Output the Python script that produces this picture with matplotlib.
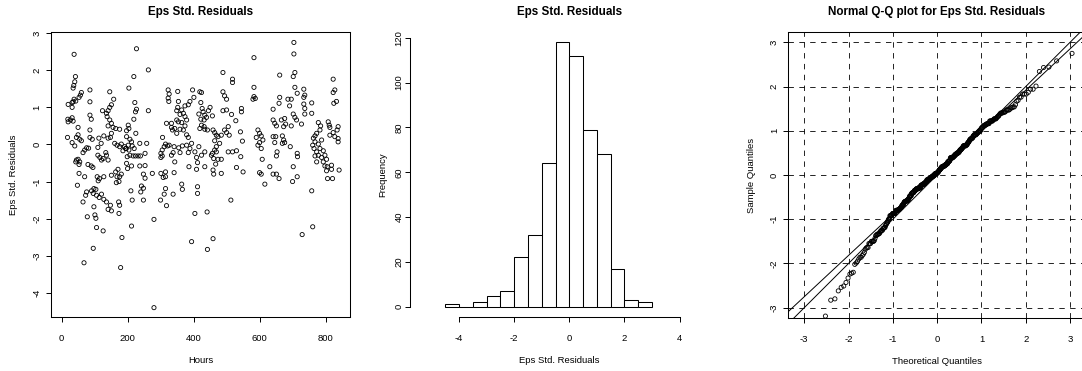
import matplotlib
matplotlib.use("Agg")
import matplotlib.pyplot as plt
import numpy as np
from statistics import NormalDist

plt.rcParams['font.family'] = ['Liberation Sans', 'DejaVu Sans']
plt.rcParams['axes.unicode_minus'] = False

# (hours, standardized residual)
obs = [
    (38, 2.43), (42, 1.83), (40, 1.69), (37, 1.59), (35, 1.52), (60, 1.4), (57, 1.33), (53, 1.27),
    (38, 1.22), (43, 1.17), (35, 1.15), (32, 1.13), (86, 1.47), (86, 1.15), (146, 1.42), (158, 1.22),
    (151, 1.07), (146, 1.0), (141, 0.91), (136, 0.84), (20, 1.08), (32, 1.0), (124, 0.91), (86, 0.79),
    (90, 0.68), (19, 0.68), (27, 0.66), (20, 0.61), (32, 0.72), (35, 0.63), (50, 0.46), (138, 0.75),
    (146, 0.66), (151, 0.57), (141, 0.5), (156, 0.46), (164, 0.43), (176, 0.41), (86, 0.39), (50, 0.26),
    (45, 0.19), (55, 0.14), (60, 0.1), (18, 0.19), (32, 0.05), (40, -0.04), (86, 0.19), (93, 0.14),
    (113, 0.17), (128, 0.23), (120, 0.03), (110, -0.08), (151, 0.3), (148, 0.19), (141, 0.17), (76, -0.09),
    (82, -0.1), (70, -0.15), (65, -0.22), (161, 0.03), (168, -0.02), (176, -0.06), (181, 0.01), (191, -0.06),
    (186, -0.17), (194, -0.11), (110, -0.29), (116, -0.35), (121, -0.42), (126, -0.38), (141, -0.42), (136, -0.29),
    (134, -0.22), (45, -0.42), (50, -0.4), (55, -0.47), (53, -0.54), (43, -0.47), (80, -0.54), (90, -0.58),
    (95, -0.62), (199, -0.33), (196, -0.11), (53, -0.78), (70, -0.87), (171, -0.67), (164, -0.74), (181, -0.8),
    (176, -0.87), (151, -0.83), (168, -0.87), (174, -1.0), (166, -1.03), (108, -0.87), (115, -0.92), (128, -0.87),
    (111, -0.98), (48, -1.1), (98, -1.19), (104, -1.21), (91, -1.25), (96, -1.32), (76, -1.28), (73, -1.37),
    (106, -1.37), (114, -1.43), (121, -1.34), (128, -1.48), (136, -1.55), (148, -1.64), (141, -1.75), (151, -1.79),
    (65, -1.55), (173, -1.55), (176, -1.64), (174, -1.86), (98, -1.68), (101, -1.9), (104, -1.99), (78, -1.95),
    (106, -2.24), (126, -2.33), (183, -2.51), (96, -2.8), (68, -3.19), (179, -3.32),
    (227, 2.58), (263, 2.01), (219, 1.83), (204, 1.52), (222, 1.13), (227, 0.95), (224, 0.88), (263, 0.91),
    (219, 0.68), (202, 0.52), (204, 0.43), (197, 0.37), (225, 0.3), (197, 0.21), (207, 0.14), (212, 0.07),
    (202, -0.02), (214, -0.04), (220, -0.11), (204, -0.15), (237, 0.03), (258, 0.03), (207, -0.29), (217, -0.31),
    (224, -0.31), (232, -0.31), (239, -0.31), (253, -0.24), (197, -0.51), (200, -0.65), (212, -0.58), (237, -0.58),
    (253, -0.57), (248, -0.8), (253, -0.91), (242, -1.12), (248, -1.18), (240, -1.28), (275, -0.78), (210, -1.25),
    (214, -1.5), (248, -1.5), (212, -2.2), (280, -2.02), (280, -4.4), (301, -0.78), (308, -0.89), (315, -0.74),
    (315, -0.87), (300, -1.5), (311, -1.34), (315, -1.19), (318, -1.65), (338, -1.34), (341, -0.76), (364, -1.07),
    (366, -1.21), (386, -0.6), (301, -0.24), (305, -0.15), (311, -0.06), (315, 0.01), (321, -0.04), (326, -0.02),
    (333, -0.29), (338, -0.22), (343, -0.47), (305, -0.31), (301, -0.35), (306, 0.19), (318, 0.57), (333, 0.57),
    (333, 0.46), (336, 0.39), (349, 0.66), (354, 0.61), (364, 0.59), (359, 0.41), (369, 0.39), (379, 0.26),
    (374, 0.5), (384, 0.19), (323, 1.47), (326, 1.36), (323, 1.25), (325, 1.16), (352, 1.43), (354, 1.16),
    (352, 1.0), (349, 0.91), (359, 0.81), (364, 0.93), (369, 0.84), (374, 0.75), (379, 0.66), (389, 1.16),
    (384, 1.07), (397, 1.47), (401, 1.27), (374, 1.04), (341, -0.06), (355, -0.09), (366, -0.04), (379, -0.02),
    (389, -0.11), (394, 0.03), (359, -0.22), (384, -0.22), (343, 0.43), (349, 0.3), (419, 1.42), (424, 1.4),
    (422, 1.13), (426, 0.97), (429, 0.88), (434, 0.79), (439, 0.73), (416, 0.82), (422, 0.68), (432, 0.66),
    (445, 0.91), (450, 1.0), (434, 0.41), (432, 0.48), (424, 0.52), (419, 0.43), (442, 0.39), (404, -0.2),
    (409, -0.35), (412, -0.49), (409, -0.67), (416, -0.06), (434, -0.2), (434, -0.6), (424, -0.29), (404, -1.86),
    (441, -1.82), (442, -2.83), (394, -2.62), (412, -1.14), (412, -1.32),
    (704, 2.75), (704, 2.44), (583, 2.34), (489, 1.94), (518, 1.76), (518, 1.67), (489, 1.42), (494, 1.31),
    (500, 1.22), (583, 1.54), (583, 1.29), (587, 1.24), (580, 1.22), (661, 1.87), (707, 1.94), (702, 1.83),
    (707, 1.54), (714, 1.38), (661, 1.27), (659, 1.11), (641, 0.95), (686, 1.22), (696, 1.22), (691, 1.04),
    (702, 0.82), (707, 0.73), (712, 0.66), (457, 0.77), (489, 0.91), (500, 0.93), (515, 0.81), (528, 0.64),
    (545, 0.97), (545, 0.88), (641, 0.66), (646, 0.57), (651, 0.5), (666, 0.66), (676, 0.7), (679, 0.55),
    (673, 0.48), (696, 0.5), (459, 0.39), (464, 0.32), (469, 0.25), (474, 0.21), (484, 0.25), (494, 0.39),
    (505, 0.48), (500, 0.32), (508, 0.25), (479, 0.03), (464, 0.1), (469, -0.06), (464, -0.15), (457, -0.24),
    (469, -0.2), (454, -0.29), (461, -0.38), (467, -0.53), (474, -0.4), (484, -0.4), (459, -0.69), (461, -0.8),
    (484, -0.78), (505, -0.2), (518, -0.2), (530, -0.17), (543, -0.33), (542, 0.34), (548, 0.09), (530, -0.62),
    (550, -0.74), (595, 0.39), (600, 0.3), (590, 0.19), (605, 0.23), (610, 0.12), (600, 0.05), (595, -0.02),
    (605, -0.11), (608, -0.4), (600, -0.76), (605, -0.8), (616, -1.07), (641, 0.21), (649, 0.21), (646, 0.05),
    (669, 0.23), (673, 0.12), (676, 0.05), (669, 0.03), (693, -0.06), (653, -0.2), (651, -0.31), (631, -0.6),
    (641, -0.8), (651, -0.8), (659, -0.92), (714, -0.24), (715, -0.33), (702, -0.6), (700, -1.0), (714, -0.87),
    (513, -1.5), (459, -2.54),
    (823, 1.76), (828, 1.47), (823, 1.4), (833, 1.16), (825, 1.11), (734, 1.49), (737, 1.33), (734, 1.27),
    (734, 1.09), (737, 0.97), (737, 0.82), (758, 1.12), (758, 0.84), (727, 0.55), (778, 0.59), (785, 0.5),
    (783, 0.39), (773, 0.3), (768, 0.23), (763, 0.17), (808, 0.61), (811, 0.52), (813, 0.46), (838, 0.48),
    (835, 0.39), (823, 0.32), (828, 0.21), (838, 0.16), (838, 0.07), (813, 0.25), (768, 0.07), (778, 0.01),
    (788, 0.12), (783, -0.11), (793, -0.17), (773, -0.2), (768, -0.31), (778, -0.29), (788, -0.35), (798, -0.29),
    (803, -0.4), (773, -0.47), (793, -0.47), (761, -0.02), (765, -0.11), (798, -0.58), (805, -0.6), (818, -0.56),
    (818, -0.67), (803, -0.71), (821, -0.92), (806, -0.92), (841, -0.69), (758, -1.25), (761, -2.22), (729, -2.43),
]

# histogram bars
hist_edges = [-4.5, -4.0, -3.5, -3.0, -2.5, -2.0, -1.5, -1.0, -0.5, 0.0, 0.5, 1.0, 1.5, 2.0, 2.5, 3.0]
hist_counts = [1, 0, 2, 5, 7, 22, 32, 64, 118, 112, 79, 68, 17, 3, 2]

hours = np.array([p[0] for p in obs], dtype=float)
eps = np.array([p[1] for p in obs], dtype=float)

W, H = 1082, 371
fig = plt.figure(figsize=(W / 100, H / 100), dpi=100)


def add_ax(l, r, t, b):
    return fig.add_axes([l / W, 1 - b / H, (r - l) / W, (b - t) / H])


def r_ticks(ax, xpad=8.5, ypad=3.5):
    ax.tick_params(direction='out', length=3.3, width=0.7, labelsize=6.8, colors='black')
    ax.tick_params(axis='x', pad=xpad)
    ax.tick_params(axis='y', pad=ypad, labelrotation=90)
    for lab in ax.get_yticklabels():
        lab.set_va('center')
    for s in ax.spines.values():
        s.set_linewidth(0.75)


lab_kw = dict(fontsize=6.8)
title_kw = dict(fontsize=8.4, fontweight='bold', ha='center', va='center')

# left: residuals over time
ax1 = add_ax(51, 350, 31.7, 317.3)
ax1.scatter(hours, eps, s=9, facecolors='none', edgecolors='black', linewidths=0.6)
ax1.set_xlim(-32, 874)
ax1.set_ylim(-4.66, 3.04)
ax1.set_xticks([0, 200, 400, 600, 800])
ax1.set_yticks([-4, -3, -2, -1, 0, 1, 2, 3])
r_ticks(ax1)
ax1.set_xlabel('Hours', **lab_kw)
ax1.set_ylabel('Eps Std. Residuals', **lab_kw)
ax1.xaxis.set_label_coords(0.5, -0.152)
ax1.xaxis.label.set_va('center')
ax1.yaxis.set_label_coords(-0.127, 0.5)
ax1.yaxis.label.set_va('center')
fig.text(200.5 / W, 1 - 12 / H, 'Eps Std. Residuals', **title_kw)

# middle: histogram
ax2 = add_ax(410.3, 709, 31.7, 317.3)
ax2.hist(hist_edges[:-1], bins=hist_edges, weights=hist_counts,
         facecolor='white', edgecolor='black', linewidth=0.75)
ax2.set_xlim(-5.77, 5.07)
ax2.set_ylim(-4.72, 122.72)
ax2.set_xticks([-4, -2, 0, 2, 4])
ax2.set_yticks([0, 20, 40, 60, 80, 100, 120])
ax2.spines['top'].set_visible(False)
ax2.spines['right'].set_visible(False)
ax2.spines['left'].set_bounds(0, 120)
ax2.spines['bottom'].set_bounds(-4, 4)
r_ticks(ax2, ypad=1.5)
ax2.set_xlabel('Eps Std. Residuals', **lab_kw)
ax2.set_ylabel('Frequency', **lab_kw)
ax2.xaxis.set_label_coords(0.5, -0.152)
ax2.xaxis.label.set_va('center')
ax2.yaxis.set_label_coords(-0.092, 0.5)
ax2.yaxis.label.set_va('center')
fig.text(569.3 / W, 1 - 12 / H, 'Eps Std. Residuals', **title_kw)

# right: normal Q-Q plot
n = len(eps)
sample_q = np.sort(eps)
theo_q = np.array([NormalDist().inv_cdf((i + 0.5) / n) for i in range(n)])
q1, q3 = np.quantile(eps, [0.25, 0.75])
z1, z3 = NormalDist().inv_cdf(0.25), NormalDist().inv_cdf(0.75)
slope = (q3 - q1) / (z3 - z1)
icpt = q1 - slope * z1

ax3 = add_ax(788.3, 1086, 31.7, 318.3)
ax3.set_axisbelow(True)
ax3.grid(True, color='black', linestyle=(0, (6.5, 6.5)), linewidth=0.6)
ax3.scatter(theo_q, sample_q, s=9, facecolors='none', edgecolors='black', linewidths=0.6)
ax3.axline((0, 0), slope=1, color='black', linewidth=0.7)
ax3.axline((0, icpt), slope=slope, color='black', linewidth=0.7)
ax3.set_xlim(-3.36, 3.36)
ax3.set_ylim(-3.24, 3.24)
ax3.set_xticks([-3, -2, -1, 0, 1, 2, 3])
ax3.set_yticks([-3, -2, -1, 0, 1, 2, 3])
r_ticks(ax3)
ax3.set_xlabel('Theoretical Quantiles', **lab_kw)
ax3.set_ylabel('Sample Quantiles', **lab_kw)
ax3.xaxis.set_label_coords(0.5, -0.152)
ax3.xaxis.label.set_va('center')
ax3.yaxis.set_label_coords(-0.125, 0.5)
ax3.yaxis.label.set_va('center')
fig.text(937 / W, 1 - 12 / H, 'Normal Q-Q plot for Eps Std. Residuals', **title_kw)

fig.savefig('out.png', dpi=100)
